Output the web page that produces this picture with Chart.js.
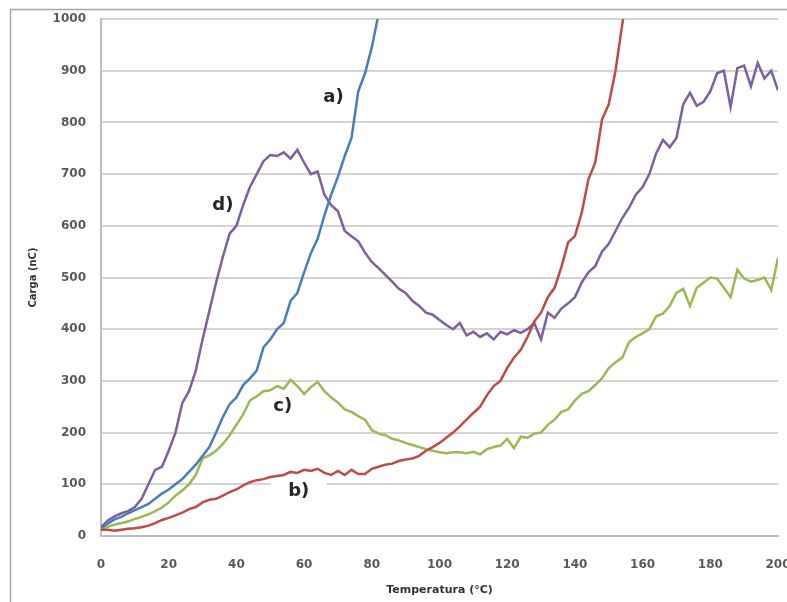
<!DOCTYPE html>
<html>
<head>
<meta charset="utf-8">
<script src="https://cdn.jsdelivr.net/npm/chart.js@4/dist/chart.umd.min.js"></script>
<style>
  html, body { margin: 0; padding: 0; background: #fff; overflow: hidden; }
  #wrap { width: 787px; height: 602px; position: relative; }
</style>
</head>
<body>
<div id="wrap"><canvas id="c" width="787" height="602"></canvas></div>
<script>
// Temperature (°C) sample points
const temps = [0,2,4,6,8,10,12,14,16,18,20,22,24,26,28,30,32,34,36,38,40,42,44,46,48,50,52,54,56,58,60,62,64,66,68,70,72,74,76,78,80,82,84,86,88,90,92,94,96,98,100,102,104,106,108,110,112,114,116,118,120,122,124,126,128,130,132,134,136,138,140,142,144,146,148,150,152,154,156,158,160,162,164,166,168,170,172,174,176,178,180,182,184,186,188,190,192,194,196,198,200];

// Carga (nC) series
const seriesA = [15,24,32,37,44,50,56,62,72,82,90,100,110,124,138,155,172,200,230,255,268,292,305,320,365,380,400,412,455,470,510,547,575,620,660,695,735,770,860,895,945,1010,1090];
const seriesB = [12,12,10,12,14,15,17,20,25,31,35,40,45,52,56,65,70,72,78,85,90,98,104,108,110,114,116,118,124,122,128,126,130,122,118,126,118,128,120,120,130,134,138,140,145,148,150,155,165,172,180,190,200,212,225,238,250,272,290,300,325,345,360,385,415,432,462,480,520,568,580,625,690,722,805,835,900,990,1080];
const seriesC = [12,18,22,25,28,33,37,42,48,55,65,78,88,100,118,150,156,165,178,195,215,235,262,270,280,282,290,285,302,290,275,288,298,280,268,258,245,240,232,225,205,198,195,188,185,180,176,172,168,165,162,160,162,162,160,163,158,168,172,175,188,170,192,190,198,200,215,225,240,245,262,275,280,292,305,325,336,345,375,385,392,400,425,430,445,470,478,445,480,490,500,498,480,462,515,498,492,495,500,476,538];
const seriesD = [17,30,38,44,48,56,72,100,128,134,165,200,257,280,320,380,435,490,540,585,600,640,675,700,725,737,735,742,730,747,722,700,705,660,640,628,590,580,570,548,530,518,505,492,478,470,455,445,432,428,418,408,400,412,388,395,385,392,380,395,390,398,393,400,412,380,432,422,440,450,462,490,510,522,550,565,590,615,635,660,675,700,740,766,752,770,835,857,832,840,860,895,900,830,905,910,870,915,885,900,862];

const yTicks = [0,100,200,300,400,500,600,700,800,900,1000];
const xTicks = [0,20,40,60,80,100,120,140,160,180,200];

const labelsText = ['a)','b)','c)','d)'];
const labelsX = [68.7, 58.4, 53.7, 36];
const labelsY = [849, 87, 250, 640];

function pts(arr) { return arr.map((v, i) => ({ x: temps[i], y: v })); }

const frame = {
  id: 'frame',
  beforeDraw(chart) {
    const ctx = chart.ctx;
    ctx.save();
    ctx.fillStyle = '#fff';
    ctx.fillRect(0, 0, chart.width, chart.height);
    ctx.strokeStyle = '#a6a6a6';
    ctx.lineWidth = 1.5;
    ctx.strokeRect(10.5, 9.5, 900, 700);
    ctx.restore();
  }
};

const annot = {
  id: 'annot',
  afterDatasetsDraw(chart) {
    const ctx = chart.ctx;
    const xs = chart.scales.x, ys = chart.scales.y;
    ctx.save();
    ctx.font = 'bold 18px "DejaVu Sans"';
    ctx.textAlign = 'center';
    ctx.textBaseline = 'middle';
    labelsText.forEach((t, i) => {
      const px = xs.getPixelForValue(labelsX[i]);
      const py = ys.getPixelForValue(labelsY[i]);
      if (t === 'b)') {
        ctx.fillStyle = '#fff';
        ctx.fillRect(px - 28, py - 11, 56, 22);
      }
      ctx.fillStyle = '#262626';
      ctx.fillText(t, px, py);
    });
    ctx.restore();
  }
};

const mk = (label, data, color) => ({
  label, data: pts(data), borderColor: color, backgroundColor: color,
  borderWidth: 2.5, pointRadius: 0, tension: 0, fill: false
});

new Chart(document.getElementById('c'), {
  type: 'line',
  data: {
    datasets: [
      mk('a)', seriesA, '#4a7ebb'),
      mk('b)', seriesB, '#be4b48'),
      mk('c)', seriesC, '#98b954'),
      mk('d)', seriesD, '#7d60a0')
    ]
  },
  options: {
    responsive: false,
    animation: false,
    layout: { padding: { left: 0, right: 9, top: 19, bottom: 0 } },
    plugins: { legend: { display: false }, tooltip: { enabled: false } },
    scales: {
      x: {
        type: 'linear', min: 0, max: 200,
        afterFit(s) { s.height = 66; s.paddingRight = 0; s.paddingLeft = 0; },
        afterBuildTicks(s) { s.ticks = xTicks.map(v => ({ value: v })); },
        grid: { display: false },
        border: { display: true, color: '#bfbfbf', width: 2 },
        ticks: { padding: 14, color: '#595959', font: { family: 'DejaVu Sans', size: 12, weight: 'bold' }, maxRotation: 0, autoSkip: false, callback: v => String(v) },
        title: { display: true, text: 'Temperatura (°C)', color: '#333', font: { family: 'DejaVu Sans', size: 11, weight: 'bold' }, padding: { top: 0, bottom: 5 } }
      },
      y: {
        type: 'linear', min: 0, max: 1000,
        afterFit(s) { s.width = 101; s.paddingTop = 0; s.paddingBottom = 0; },
        afterBuildTicks(s) { s.ticks = yTicks.map(v => ({ value: v })); },
        grid: { color: '#d4d4d4', lineWidth: 2, drawTicks: false },
        border: { display: true, color: '#bfbfbf', width: 2 },
        ticks: { padding: 15, color: '#595959', font: { family: 'DejaVu Sans', size: 12, weight: 'bold' }, callback: v => String(v) },
        title: { display: true, text: 'Carga (nC)', color: '#333', font: { family: 'DejaVu Sans', size: 10, weight: 'bold' }, padding: { top: 27, bottom: 0 } }
      }
    }
  },
  plugins: [frame, annot]
});
</script>
</body>
</html>
